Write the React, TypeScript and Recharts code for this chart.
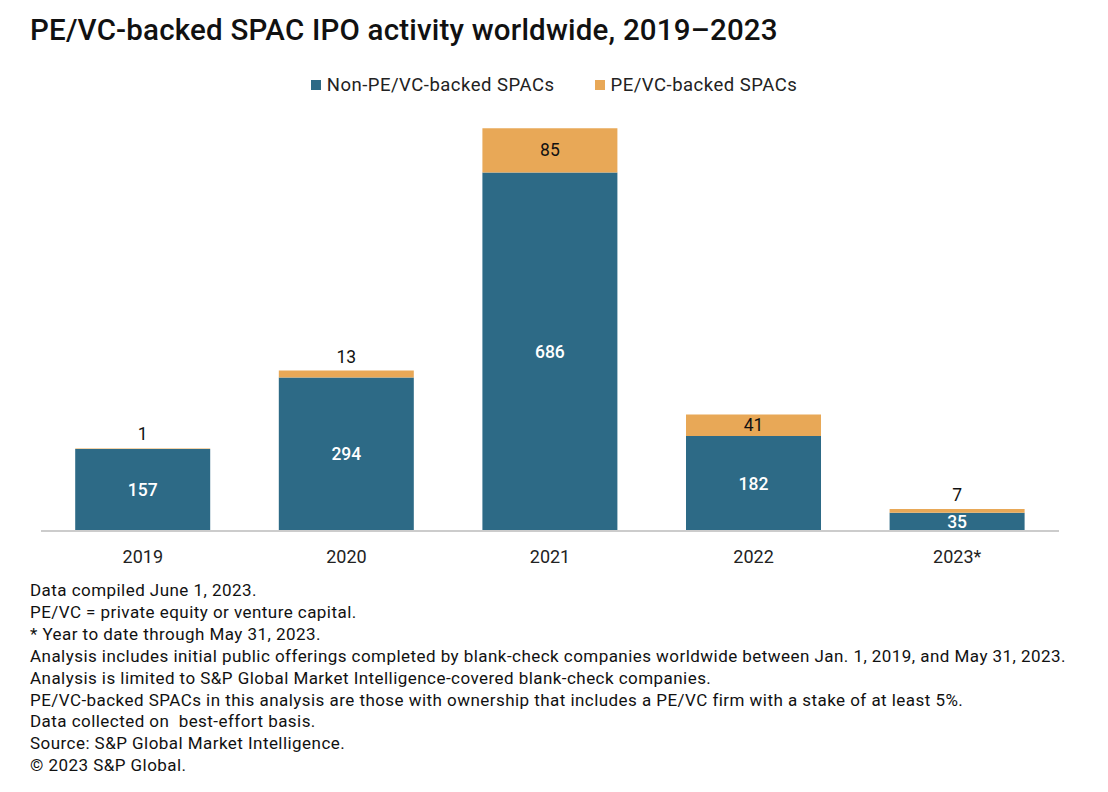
import React from "react";
import { Bar, BarChart, LabelList, XAxis, YAxis } from "recharts";

const years = ["2019", "2020", "2021", "2022", "2023*"];
const nonBacked = [157, 294, 686, 182, 35];
const backed = [1, 13, 85, 41, 7];

const notes = [
  "Data compiled June 1, 2023.",
  "PE/VC = private equity or venture capital.",
  "* Year to date through May 31, 2023.",
  "Analysis includes initial public offerings completed by blank-check companies worldwide between Jan. 1, 2019, and May 31, 2023.",
  "Analysis is limited to S&P Global Market Intelligence-covered blank-check companies.",
  "PE/VC-backed SPACs in this analysis are those with ownership that includes a PE/VC firm with a stake of at least 5%.",
  "Data collected on  best-effort basis.",
  "Source: S&P Global Market Intelligence.",
  "© 2023 S&P Global.",
];

const NAVY = "#2d6a86";
const ORANGE = "#e8a857";
const FONT = "Roboto, 'Liberation Sans', sans-serif";

const data = years.map((year, i) => ({
  year,
  nonBacked: nonBacked[i],
  backed: backed[i],
}));

const legendItems = [
  { label: "Non-PE/VC-backed SPACs", color: NAVY },
  { label: "PE/VC-backed SPACs", color: ORANGE },
];

function ChartLegend() {
  return (
    <div
      style={{
        position: "absolute",
        left: 0,
        top: 74,
        width: 1108,
        display: "flex",
        justifyContent: "center",
        gap: 40,
        fontSize: 18.5,
        letterSpacing: 0.5,
        color: "#222",
      }}
    >
      {legendItems.map((it) => (
        <div key={it.label} style={{ display: "flex", alignItems: "center", gap: 6 }}>
          <span style={{ width: 10, height: 10, background: it.color, display: "inline-block" }} />
          <span>{it.label}</span>
        </div>
      ))}
    </div>
  );
}

// small orange segments get their number above the bar, bigger ones inside
function BackedLabel(props: any) {
  const { x, y, width, height, value } = props;
  const inside = height > 18;
  return (
    <text
      x={x + width / 2}
      y={inside ? y + height / 2 : y - 14}
      textAnchor="middle"
      dominantBaseline="central"
      fill="#111"
      fontSize={17.5}
      fontFamily={FONT}
    >
      {value}
    </text>
  );
}

export default function App() {
  return (
    <div style={{ position: "absolute", left: 0, top: 0, width: 1108, height: 792, background: "#fff", fontFamily: FONT }}>
      <div style={{ position: "absolute", left: 30, top: 13, fontSize: 29.5, fontWeight: 500, color: "#111", letterSpacing: 0.2 }}>
        PE/VC-backed SPAC IPO activity worldwide, 2019–2023
      </div>
      <ChartLegend />
      <BarChart
        width={1108}
        height={580}
        data={data}
        margin={{ top: 113, right: 49, bottom: 19, left: 41 }}
        barCategoryGap="16.8%"
      >
        <XAxis
          dataKey="year"
          axisLine={{ stroke: "#cccccc", strokeWidth: 2 }}
          tickLine={false}
          tickMargin={13}
          height={30}
          tick={{ fill: "#222", fontSize: 18, fontFamily: FONT }}
        />
        <YAxis hide domain={[0, 800]} />
        <Bar dataKey="nonBacked" stackId="a" fill={NAVY} isAnimationActive={false}>
          <LabelList dataKey="nonBacked" position="center" fill="#fff" fontSize={17.5} fontWeight={500} fontFamily={FONT} />
        </Bar>
        <Bar dataKey="backed" stackId="a" fill={ORANGE} isAnimationActive={false}>
          <LabelList dataKey="backed" content={<BackedLabel />} />
        </Bar>
      </BarChart>
      <div style={{ position: "absolute", left: 30, top: 580, fontSize: 17, letterSpacing: 0.45, lineHeight: "21.9px", color: "#111" }}>
        {notes.map((n) => (
          <div key={n} style={{ whiteSpace: "pre" }}>{n}</div>
        ))}
      </div>
    </div>
  );
}
